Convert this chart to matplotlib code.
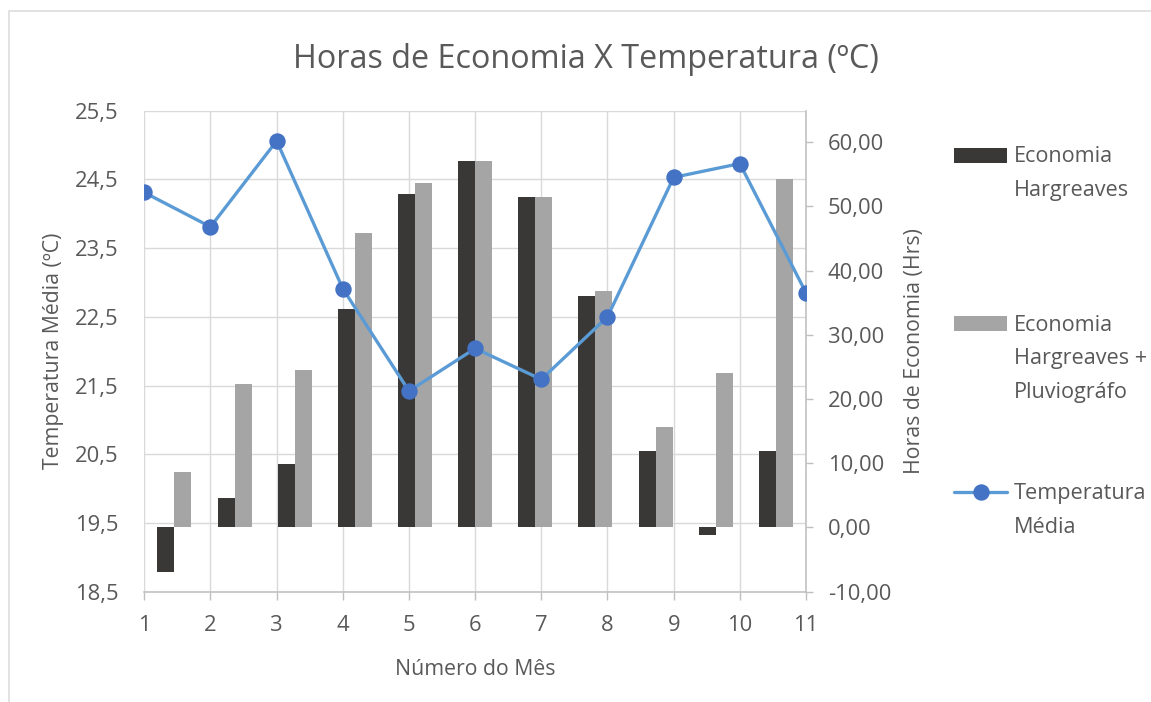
import numpy as np
import matplotlib.pyplot as plt
from matplotlib.patches import Rectangle
from matplotlib.ticker import FuncFormatter

plt.rcParams['font.family'] = ['Open Sans', 'DejaVu Sans']

# dados
meses = np.arange(1, 12)
temperatura = [24.31, 23.81, 25.06, 22.91, 21.42, 22.04, 21.59, 22.50, 24.53, 24.73, 22.85]
economia_hargreaves = [-7.0, 4.6, 9.9, 34.0, 51.9, 57.0, 51.5, 36.1, 11.9, -1.2, 11.9]
economia_pluvio = [8.6, 22.4, 24.5, 45.8, 53.7, 57.0, 51.5, 36.9, 15.7, 24.1, 54.2]
temp_ticks = [18.5, 19.5, 20.5, 21.5, 22.5, 23.5, 24.5, 25.5]
horas_ticks = [-10, 0, 10, 20, 30, 40, 50, 60]
labels = ['Economia\nHargreaves\n', 'Economia\nHargreaves +\nPluviográfo', 'Temperatura\nMédia\n']

W, H, DPI = 1151, 702, 100
PX = 72 / DPI  # px -> pt
TXT = '#595959'
GRID = '#d9d9d9'
AXC = '#bfbfbf'

fig = plt.figure(figsize=(W / DPI, H / DPI), dpi=DPI)
ax = fig.add_axes([144.3 / W, 1 - 591.7 / H, 661.7 / W, 481 / H])

# eixo da temperatura (grade + eixo x)
ax.set_xlim(meses[0], meses[-1])
ax.set_ylim(temp_ticks[0], temp_ticks[-1])
ax.set_xticks(meses)
ax.set_yticks(temp_ticks)
ax.yaxis.set_major_formatter(FuncFormatter(lambda v, p: f'{v:.1f}'.replace('.', ',')))
ax.grid(True, color=GRID, lw=1.4 * PX)
ax.set_axisbelow(True)
for s in ['top', 'left', 'right']:
    ax.spines[s].set_visible(False)
ax.spines['bottom'].set_color(AXC)
ax.spines['bottom'].set_linewidth(1.6 * PX)
ax.tick_params(axis='y', length=0, pad=26 * PX, labelsize=15.8, labelcolor=TXT)
ax.tick_params(axis='x', length=8 * PX, width=1.4 * PX, color=AXC, pad=15 * PX,
               labelsize=15.8, labelcolor=TXT)

# eixo das horas (barras)
axb = ax.twinx()
axb.set_ylim(-10, 64.9)
axb.set_yticks(horas_ticks)
axb.yaxis.set_major_formatter(FuncFormatter(lambda v, p: f'{v:.2f}'.replace('.', ',')))
for s in ['top', 'left', 'bottom']:
    axb.spines[s].set_visible(False)
axb.spines['right'].set_color(AXC)
axb.spines['right'].set_linewidth(1.6 * PX)
axb.tick_params(axis='y', length=7 * PX, width=1.4 * PX, color=AXC, pad=15 * PX,
                labelsize=15.8, labelcolor=TXT)

n = len(meses)
cat_w = (meses[-1] - meses[0]) / n
centros = meses[0] + (np.arange(n) + 0.5) * cat_w
bw = 0.257
b1 = axb.bar(centros - bw / 2, economia_hargreaves, bw, color='#3a3836', lw=0)
b2 = axb.bar(centros + bw / 2, economia_pluvio, bw, color='#a5a5a5', lw=0)

# linha da temperatura por cima das barras
axl = ax.twinx()
axl.set_ylim(temp_ticks[0], temp_ticks[-1])
axl.set_yticks([])
for s in axl.spines.values():
    s.set_visible(False)
ln, = axl.plot(meses, temperatura, color='#5b9bd5', lw=3.3 * PX, marker='o',
               ms=15 * PX, mfc='#4472c4', mec='#4472c4', solid_capstyle='round')

ax.set_ylabel('Temperatura Média (ºC)', fontsize=15.3, color=TXT)
ax.yaxis.set_label_coords(-0.122, 0.5)
axb.set_ylabel('Horas de Economia (Hrs)', fontsize=15.3, color=TXT)
axb.yaxis.set_label_coords(1.148, 0.5)
ax.set_xlabel('Número do Mês', fontsize=15.3, color=TXT)
ax.xaxis.set_label_coords(0.5, -0.14)

fig.text(586 / W, 1 - 59 / H, 'Horas de Economia X Temperatura (ºC)',
         ha='center', va='center', fontsize=23.3, color=TXT)

# moldura do gráfico
fig.add_artist(Rectangle((9 / W, -0.5), 2, 0.5 + 1 - 11 / H, transform=fig.transFigure,
                         fill=False, ec=GRID, lw=1.5 * PX))

fs = 15.6
fpx = fs / PX
leg = fig.legend([b1, b2, ln], labels, loc='upper left',
                 bbox_to_anchor=(954 / W, 1 - 146 / H), frameon=False,
                 borderpad=0, borderaxespad=0, fontsize=fs,
                 handlelength=53 / fpx, handleheight=15 / fpx,
                 handletextpad=7 / fpx, labelspacing=80 / fpx, labelcolor=TXT)
for t in leg.get_texts():
    t.set_linespacing(1.8)

# alinhar os símbolos da legenda com a primeira linha do texto
fig.canvas.draw()
r = fig.canvas.get_renderer()
for h, t in zip(leg.legend_handles, leg.get_texts()):
    tb = t.get_window_extent(r)
    alvo = tb.y1 - 0.42 * fpx
    hb = h.get_window_extent(r)
    dy = (alvo - (hb.y0 + hb.y1) / 2) * PX
    if isinstance(h, Rectangle):
        h.set_y(h.get_y() + dy)
    else:
        h.set_ydata(np.asarray(h.get_ydata()) + dy)

fig.savefig('out.png', dpi=DPI)
